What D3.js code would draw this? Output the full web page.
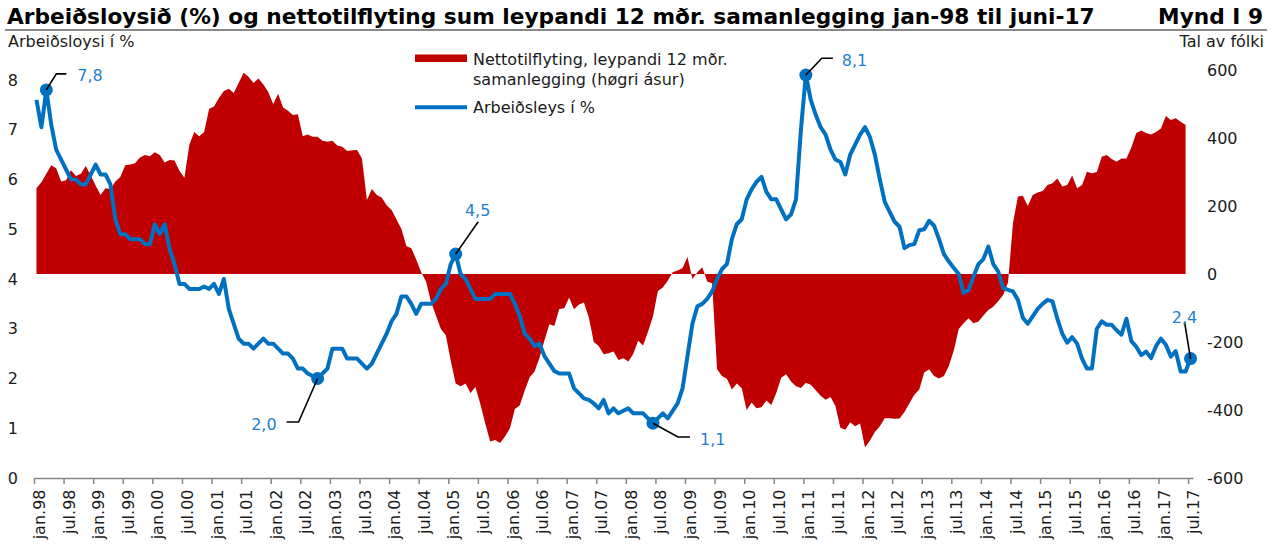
<!DOCTYPE html>
<html>
<head>
<meta charset="utf-8">
<script src="https://cdn.jsdelivr.net/npm/d3@7"></script>
<style>
  body { margin: 0; background: #fff; }
  svg { display: block; font-family: "DejaVu Sans", Verdana, sans-serif; }
</style>
</head>
<body>
<svg id="chart" width="1279" height="546"></svg>
<script>
// x axis tick labels, one every 6 months (jan.98 .. jul.17)
const tickLabels = [
  'jan.98', 'jul.98', 'jan.99', 'jul.99', 'jan.00', 'jul.00', 'jan.01', 'jul.01',
  'jan.02', 'jul.02', 'jan.03', 'jul.03', 'jan.04', 'jul.04', 'jan.05', 'jul.05',
  'jan.06', 'jul.06', 'jan.07', 'jul.07', 'jan.08', 'jul.08', 'jan.09', 'jul.09',
  'jan.10', 'jul.10', 'jan.11', 'jul.11', 'jan.12', 'jul.12', 'jan.13', 'jul.13',
  'jan.14', 'jul.14', 'jan.15', 'jul.15', 'jan.16', 'jul.16', 'jan.17', 'jul.17',
];

// unemployment in %, monthly jan.98 .. jul.17 (left axis)
const unemployment = [
  7.6, 7.05, 7.8, 7.1, 6.6, 6.4, 6.2, 6.0, 6.0, 5.9, 5.9, 6.1,
  6.3, 6.1, 6.1, 5.9, 5.2, 4.9, 4.9, 4.8, 4.8, 4.8, 4.7, 4.7,
  5.1, 4.9, 5.1, 4.6, 4.3, 3.9, 3.9, 3.8, 3.8, 3.8, 3.85, 3.8,
  3.9, 3.7, 4.0, 3.4, 3.1, 2.8, 2.7, 2.7, 2.6, 2.7, 2.8, 2.7,
  2.7, 2.6, 2.5, 2.5, 2.4, 2.2, 2.2, 2.1, 2.05, 2.0, 2.1, 2.2,
  2.6, 2.6, 2.6, 2.4, 2.4, 2.4, 2.3, 2.2, 2.3, 2.5, 2.7, 2.9,
  3.15, 3.3, 3.65, 3.65, 3.5, 3.3, 3.5, 3.5, 3.5, 3.6, 3.8, 3.9,
  4.3, 4.5, 4.1, 4.0, 3.8, 3.6, 3.6, 3.6, 3.6, 3.7, 3.7, 3.7,
  3.7, 3.5, 3.25, 2.9, 2.8, 2.65, 2.7, 2.45, 2.3, 2.15, 2.1, 2.1,
  2.1, 1.8, 1.7, 1.6, 1.57, 1.5, 1.4, 1.57, 1.3, 1.4, 1.3, 1.35,
  1.4, 1.3, 1.3, 1.3, 1.2, 1.1, 1.2, 1.3, 1.2, 1.35, 1.5, 1.8,
  2.45, 3.1, 3.45, 3.5, 3.6, 3.75, 4.0, 4.2, 4.3, 4.8, 5.1, 5.2,
  5.6, 5.8, 5.95, 6.05, 5.75, 5.6, 5.6, 5.4, 5.2, 5.3, 5.6, 7.0,
  8.1, 7.6, 7.3, 7.05, 6.9, 6.6, 6.4, 6.35, 6.1, 6.5, 6.7, 6.9,
  7.05, 6.85, 6.5, 6.0, 5.55, 5.35, 5.15, 5.05, 4.62, 4.68, 4.7, 4.98,
  5.0, 5.17, 5.07, 4.8, 4.5, 4.35, 4.22, 4.1, 3.72, 3.78, 4.05, 4.3,
  4.4, 4.65, 4.3, 4.15, 3.82, 3.78, 3.75, 3.58, 3.22, 3.1, 3.25, 3.4,
  3.5, 3.58, 3.55, 3.2, 2.9, 2.72, 2.83, 2.7, 2.4, 2.2, 2.2, 3.0,
  3.15, 3.08, 3.08, 2.97, 2.88, 3.2, 2.75, 2.64, 2.47, 2.54, 2.41, 2.65,
  2.8, 2.68, 2.44, 2.55, 2.14, 2.14, 2.4,
];

// net migration, rolling 12 month sum, jan.98 .. jun.17 (right axis)
const migration = [
  252, 270, 295, 320, 311, 272, 276, 305, 288, 295, 318, 290,
  260, 232, 252, 250, 272, 285, 320, 322, 326, 343, 350, 346,
  358, 350, 328, 335, 334, 303, 283, 380, 418, 405, 418, 485,
  493, 518, 538, 545, 532, 562, 592, 580, 562, 575, 557, 535,
  500, 530, 490, 480, 468, 470, 405, 410, 404, 404, 392, 389,
  392, 378, 374, 362, 364, 365, 340, 218, 250, 232, 225, 202,
  188, 160, 132, 82, 76, 43, 5, -22, -82, -122, -162, -180,
  -255, -322, -330, -322, -350, -332, -382, -440, -493, -488, -497, -478,
  -454, -397, -386, -343, -304, -287, -246, -195, -148, -153, -103, -101,
  -70, -104, -90, -84, -128, -200, -212, -236, -233, -228, -253, -248,
  -257, -235, -196, -210, -170, -125, -50, -40, -20, 5, 10, 18,
  50, -15, 5, 20, -22, -27, -280, -300, -308, -340, -322, -336,
  -400, -378, -395, -392, -372, -385, -350, -305, -295, -316, -330, -335,
  -320, -326, -342, -358, -370, -362, -388, -452, -458, -436, -448, -440,
  -510, -490, -465, -448, -424, -424, -426, -425, -406, -380, -355, -340,
  -290, -280, -300, -307, -300, -270, -225, -162, -145, -130, -145, -140,
  -122, -106, -96, -80, -62, -25, 150, 228, 230, 200, 232, 240,
  244, 262, 267, 281, 257, 262, 290, 252, 262, 301, 296, 300,
  345, 350, 338, 330, 340, 340, 372, 415, 422, 415, 410, 418,
  428, 465, 453, 458, 448, 438,
];

const leftTicks = [0, 1, 2, 3, 4, 5, 6, 7, 8];
const rightTicks = [-600, -400, -200, 0, 200, 400, 600];

// highlighted unemployment points (month index)
const callouts = [
  { month: 2, text: '7,8' },
  { month: 57, text: '2,0' },
  { month: 85, text: '4,5' },
  { month: 125, text: '1,1' },
  { month: 156, text: '8,1' },
  { month: 234, text: '2,4' },
];

const blue = '#0070c0';
const red = '#c00000';
const labelBlue = '#1f7fcf';
const ink = '#1a1a1a';

const svg = d3.select('#chart');

const x = d3.scaleLinear().domain([0, unemployment.length]).range([34, 1193]);
const mid = i => x(i + 0.5);
const yLeft = d3.scaleLinear().domain([0, 8.2]).range([478, 70]);
const yRight = d3.scaleLinear().domain([-600, 600]).range([478, 70]);

// title
const title = svg.append('text')
  .attr('x', 7)
  .attr('y', 23.5)
  .attr('font-weight', 'bold')
  .attr('font-size', 20)
  .attr('fill', '#000')
  .text('Arbeiðsloysið (%) og nettotilflyting sum leypandi 12 mðr. samanlegging jan-98 til juni-17');
const titleW = title.node().getComputedTextLength();
title.attr('font-size', 20 * 1088 / titleW);

svg.append('text')
  .attr('x', 1263)
  .attr('y', 23.5)
  .attr('text-anchor', 'end')
  .attr('font-weight', 'bold')
  .attr('font-size', 20 * 1088 / titleW)
  .text('Mynd I 9');

svg.append('line')
  .attr('x1', 5).attr('x2', 1267)
  .attr('y1', 30).attr('y2', 30)
  .attr('stroke', '#8a8a8a')
  .attr('stroke-width', 2);

svg.append('text')
  .attr('x', 8).attr('y', 46.7)
  .attr('font-size', 16).attr('fill', ink)
  .text('Arbeiðsloysi í %');

svg.append('text')
  .attr('x', 1264).attr('y', 46.7)
  .attr('text-anchor', 'end')
  .attr('font-size', 16).attr('fill', ink)
  .text('Tal av fólki');

// net migration area
const area = d3.area()
  .x((d, i) => mid(i))
  .y0(yRight(0))
  .y1(d => yRight(d));

svg.append('path')
  .datum(migration)
  .attr('d', area)
  .attr('fill', red);

// unemployment line
const line = d3.line()
  .x((d, i) => mid(i))
  .y(d => yLeft(d));

svg.append('path')
  .datum(unemployment)
  .attr('d', line)
  .attr('fill', 'none')
  .attr('stroke', blue)
  .attr('stroke-width', 4)
  .attr('stroke-linejoin', 'round');

// axes
const xAxis = d3.axisBottom(x)
  .tickValues(d3.range(0, unemployment.length, 6))
  .tickSize(6)
  .tickSizeOuter(0)
  .tickFormat((d, i) => tickLabels[i]);

const gx = svg.append('g')
  .attr('transform', 'translate(0,478)')
  .call(xAxis)
  .attr('font-size', 16)
  .attr('font-family', null);
gx.select('.domain').attr('stroke', '#868686').attr('stroke-width', 1.5);
gx.selectAll('.tick line').attr('stroke', '#868686').attr('stroke-width', 1.5);
gx.selectAll('.tick text')
  .attr('x', 0)
  .attr('y', 0)
  .attr('dy', '0.35em')
  .attr('text-anchor', 'end')
  .attr('fill', ink)
  .attr('transform', `translate(${(x(1) - x(0)) / 2 + 2.5},11.5) rotate(-90)`);

const gl = svg.append('g')
  .attr('transform', 'translate(21,0)')
  .call(d3.axisLeft(yLeft).tickValues(leftTicks).tickSize(0).tickPadding(3))
  .attr('font-size', 16)
  .attr('font-family', null);
gl.select('.domain').remove();
gl.selectAll('text').attr('fill', ink);

const gr = svg.append('g')
  .attr('transform', 'translate(1204,0)')
  .call(d3.axisRight(yRight).tickValues(rightTicks).tickSize(0).tickPadding(3).tickFormat(d => String(d)))
  .attr('font-size', 16)
  .attr('font-family', null);
gr.select('.domain').remove();
gr.selectAll('text').attr('fill', ink);

// callouts: leader path and label offsets relative to the dot
const calloutLayout = [
  { path: [[10, -16], [20, -16]], label: [31, -15], anchor: 'start' },
  { path: [[-19, 43.5], [-31, 43.5]], label: [-41, 45.5], anchor: 'end' },
  { path: [[22.5, -32.4]], label: [22, -44], anchor: 'middle' },
  { path: [[25, 13.7], [37, 13.7]], label: [47, 15.7], anchor: 'start' },
  { path: [[16, -16.7], [27, -16.7]], label: [36, -15], anchor: 'start' },
  { path: [[-6, -36.6]], label: [-6, -41.6], anchor: 'middle' },
];

const callG = svg.append('g')
  .selectAll('g')
  .data(callouts)
  .enter()
  .append('g')
  .attr('transform', d => `translate(${mid(d.month)},${yLeft(unemployment[d.month])})`);

callG.append('circle')
  .attr('r', 6.5)
  .attr('fill', blue);

callG.append('path')
  .attr('d', (d, i) => d3.line()([[0, 0]].concat(calloutLayout[i].path)))
  .attr('fill', 'none')
  .attr('stroke', '#000')
  .attr('stroke-width', 1.6);

callG.append('text')
  .attr('x', (d, i) => calloutLayout[i].label[0])
  .attr('y', (d, i) => calloutLayout[i].label[1])
  .attr('dy', '0.35em')
  .attr('text-anchor', (d, i) => calloutLayout[i].anchor)
  .attr('font-size', 16)
  .attr('fill', labelBlue)
  .text(d => d.text);

// legend
const legend = svg.append('g');
legend.append('rect')
  .attr('x', 415).attr('y', 54.5)
  .attr('width', 52).attr('height', 7.5)
  .attr('fill', red);
legend.append('line')
  .attr('x1', 415).attr('x2', 467)
  .attr('y1', 107.3).attr('y2', 107.3)
  .attr('stroke', blue)
  .attr('stroke-width', 4);
legend.append('text')
  .attr('x', 473).attr('y', 65)
  .attr('font-size', 16).attr('fill', ink)
  .text('Nettotilflyting, leypandi 12 mðr.');
legend.append('text')
  .attr('x', 473).attr('y', 85)
  .attr('font-size', 16).attr('fill', ink)
  .text('samanlegging (høgri ásur)');
legend.append('text')
  .attr('x', 473).attr('y', 112.7)
  .attr('font-size', 16).attr('fill', ink)
  .text('Arbeiðsleys í %');
</script>
</body>
</html>
